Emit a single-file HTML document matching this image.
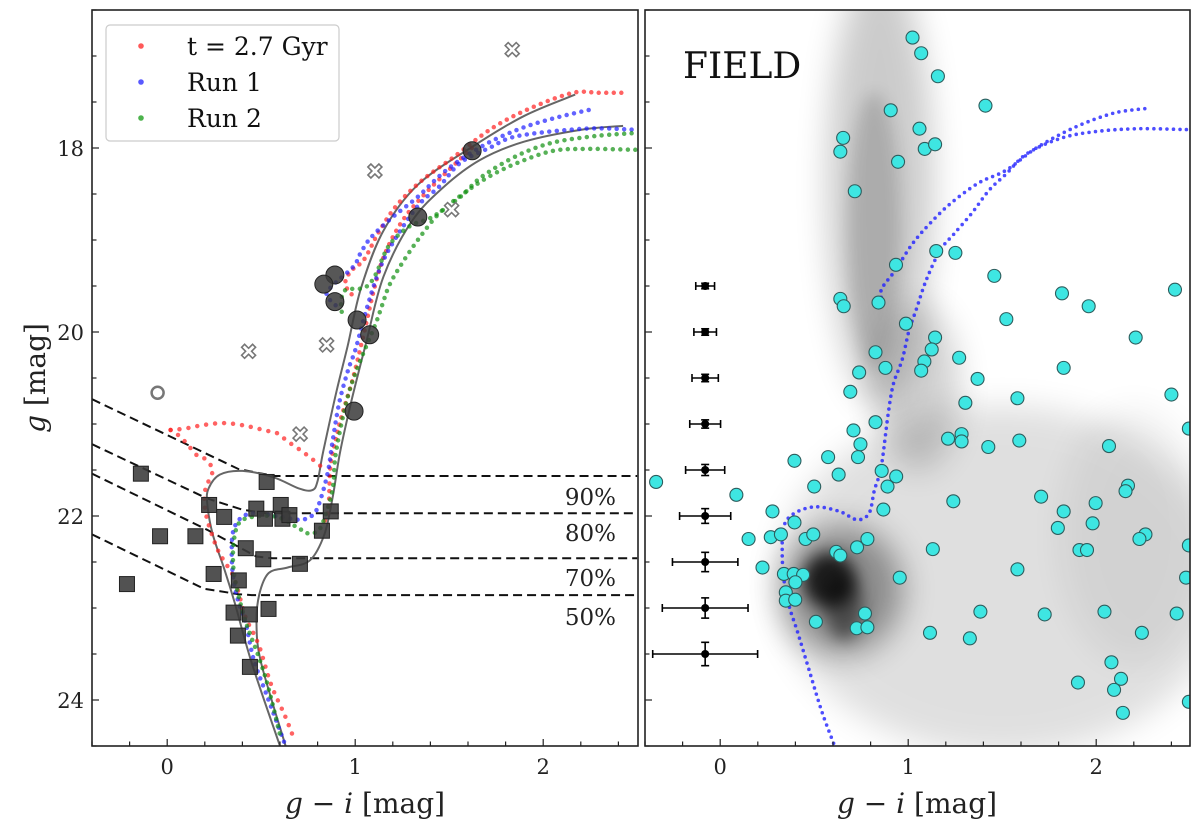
<!DOCTYPE html>
<html><head><meta charset="utf-8"><style>
html,body{margin:0;padding:0;background:#fff;}
svg{display:block;font-family:"DejaVu Serif","Liberation Serif",serif;}
</style></head><body>
<svg id="fig" width="1200" height="833" viewBox="0 0 1200 833" xmlns="http://www.w3.org/2000/svg">
<defs>
<clipPath id="clipL"><rect x="92" y="10" width="546" height="736"/></clipPath>
<clipPath id="clipR"><rect x="645" y="10" width="545" height="736"/></clipPath>
<filter id="blurBig" x="-50%" y="-50%" width="200%" height="200%"><feGaussianBlur stdDeviation="16"/></filter>
<filter id="blurMid" x="-50%" y="-50%" width="200%" height="200%"><feGaussianBlur stdDeviation="8"/></filter>
</defs>
<g id="density" clip-path="url(#clipR)"></g>
<g id="plotL" clip-path="url(#clipL)"></g>
<g id="plotR" clip-path="url(#clipR)"></g>
<g id="axes"></g>
</svg>
<script>
// ---------- data (color g-i, magnitude g) ----------
const redTop = [[0.981,19.59],[0.957,19.53],[0.949,19.44],[0.981,19.33],[1.048,19.21],[1.124,18.92],[1.218,18.63],[1.351,18.36],[1.523,18.10],[1.732,17.78],[1.941,17.56],[2.159,17.40],[2.30,17.40],[2.455,17.40]];
const redInner = [[1.62,18.0],[1.389,18.46],[1.255,18.78],[1.16,19.14],[1.105,19.50],[1.048,20.0],[0.99,20.49],[0.93,20.9],[0.90,21.14],[0.868,21.46],[0.857,21.93],[0.82,22.12]];
const redSgb = [[0.018,21.065],[0.093,21.05],[0.195,21.01],[0.306,20.99],[0.418,21.02],[0.52,21.07],[0.585,21.10],[0.641,21.19],[0.706,21.28],[0.771,21.38],[0.817,21.46]];
const redMs = [[0.018,21.065],[0.046,21.10],[0.08,21.16],[0.111,21.23],[0.158,21.34],[0.195,21.37],[0.241,21.48],[0.232,21.57],[0.204,21.70],[0.198,21.86],[0.213,22.04],[0.241,22.22],[0.269,22.37],[0.306,22.50],[0.353,22.66],[0.39,22.91],[0.418,23.11],[0.46,23.28],[0.495,23.45],[0.554,23.84],[0.626,24.17],[0.68,24.45]];
const blueOuter = [[0.896,19.71],[0.848,19.60],[0.877,19.50],[0.99,19.29],[1.029,19.14],[1.085,18.97],[1.20,18.75],[1.333,18.53],[1.485,18.24],[1.675,17.98],[1.865,17.80],[2.05,17.68],[2.28,17.57]];
const blueInner = [[2.47,17.80],[2.22,17.79],[1.865,17.87],[1.713,18.0],[1.56,18.16],[1.447,18.42],[1.35,18.59],[1.256,18.85],[1.162,19.17],[1.105,19.46],[1.048,19.84],[1.0,20.2],[0.963,20.41],[0.915,20.77],[0.878,21.21],[0.857,21.50],[0.820,21.79],[0.783,21.97],[0.715,22.04],[0.604,22.01],[0.474,21.97],[0.399,22.01],[0.353,22.15],[0.343,22.40],[0.353,22.70],[0.381,22.95],[0.418,23.17],[0.46,23.56],[0.53,23.95],[0.59,24.28],[0.626,24.48]];
const greenOuter = [[2.49,18.02],[2.245,18.01],[2.053,18.03],[1.865,18.16],[1.713,18.31],[1.58,18.49],[1.447,18.71],[1.333,19.0],[1.238,19.29],[1.18,19.5],[1.143,19.71],[1.105,19.93],[1.008,20.41],[0.952,20.77],[0.897,21.32],[0.882,21.68],[0.845,21.97],[0.808,22.15],[0.752,22.19],[0.697,22.13],[0.585,22.01],[0.455,22.01],[0.381,22.08],[0.353,22.30],[0.353,22.59],[0.381,22.88],[0.409,23.09],[0.436,23.26],[0.49,23.55],[0.54,23.88],[0.60,24.38]];
const greenInner = [[2.47,17.84],[2.28,17.87],[2.053,17.94],[1.865,18.08],[1.675,18.31],[1.56,18.53],[1.41,18.75],[1.29,18.85],[1.18,19.06],[1.105,19.39],[1.048,19.52],[0.944,19.55],[0.925,19.75],[0.95,19.84]];
const isoA = [[2.17,17.42],[1.90,17.65],[1.62,17.99],[1.333,18.40],[1.15,18.90],[1.03,19.53],[0.96,20.15],[0.90,20.65],[0.83,21.3],[0.80,21.62],[0.771,21.72],[0.70,21.70],[0.567,21.58],[0.40,21.51],[0.28,21.55],[0.22,21.70],[0.213,21.86],[0.241,22.19],[0.306,22.59],[0.36,22.95],[0.45,23.6],[0.60,24.5]];
const isoB = [[2.425,17.76],[2.207,17.80],[1.90,17.93],[1.664,18.13],[1.473,18.42],[1.30,18.80],[1.15,19.40],[1.06,20.1],[0.98,20.75],[0.92,21.3],[0.88,21.8],[0.836,22.2],[0.76,22.48],[0.641,22.56],[0.54,22.62],[0.49,22.85],[0.475,23.17],[0.50,23.6],[0.63,24.5]];
const squaresC = [-0.14,0.529,0.223,0.303,0.474,0.52,0.604,0.613,0.65,0.87,0.823,-0.038,0.15,0.418,0.511,0.706,0.247,0.381,-0.214,0.353,0.44,0.539,0.376,0.44];
const squaresG = [21.54,21.63,21.88,22.01,21.92,22.03,21.88,22.03,21.99,21.95,22.16,22.22,22.22,22.35,22.47,22.52,22.63,22.70,22.74,23.05,23.07,23.01,23.30,23.64];
const circlesC = [1.622,1.333,0.892,0.833,0.892,1.010,1.077,0.994];
const circlesG = [18.03,18.75,19.38,19.48,19.67,19.87,20.03,20.86];
const crossesC = [1.835,1.105,1.513,0.433,0.848,0.707];
const crossesG = [16.93,18.25,18.67,20.21,20.14,21.11];
const openC = [-0.051];
const openG = [20.66];
const compLabels = ["90%","80%","70%","50%"];
const compLines = [
 [[-0.4,20.73],[0.38,21.49],[0.57,21.565],[2.5,21.565]],
 [[-0.4,21.22],[0.213,21.81],[0.399,21.93],[0.52,21.97],[2.5,21.97]],
 [[-0.4,21.54],[0.213,22.15],[0.474,22.44],[0.56,22.46],[2.5,22.46]],
 [[-0.4,22.2],[0.195,22.79],[0.38,22.85],[0.45,22.86],[2.5,22.86]]
];
const fieldC = [1.023,1.069,1.158,0.907,1.411,1.060,0.654,0.639,1.088,1.143,0.946,0.716,1.149,1.251,0.935,1.458,0.639,0.657,0.842,1.818,1.960,2.419,1.522,0.988,2.210,1.143,1.125,0.826,1.271,1.086,0.879,1.069,1.827,0.739,1.369,
0.692,1.581,2.400,1.304,0.826,0.709,1.212,1.284,1.284,1.591,2.068,0.746,1.426,2.493,0.733,0.574,0.395,0.630,0.859,0.936,0.890,0.500,-0.341,0.086,1.707,1.997,1.240,0.868,1.827,2.169,2.156,0.278,0.395,1.981,1.796,2.262,2.230,0.151,0.269,0.323,0.454,0.495,0.783,0.728,2.493,1.131,1.911,1.951,0.617,0.639,0.225,1.581,0.339,0.391,0.441,0.400,0.955,2.478,0.349,0.349,0.399,0.770,1.384,1.726,2.044,2.428,0.509,0.726,0.783,1.116,1.328,2.243,2.081,1.903,2.132,2.095,2.142,2.493];
const fieldG = [16.80,16.97,17.22,17.59,17.54,17.79,17.89,18.04,18.01,17.96,18.15,18.47,19.12,19.14,19.27,19.39,19.64,19.72,19.68,19.58,19.72,19.54,19.86,19.91,20.06,20.06,20.19,20.22,20.28,20.32,20.39,20.42,20.39,20.44,20.51,
20.65,20.72,20.68,20.77,20.98,21.07,21.16,21.11,21.19,21.18,21.24,21.22,21.25,21.05,21.36,21.36,21.40,21.55,21.51,21.57,21.68,21.68,21.63,21.77,21.79,21.86,21.84,21.93,21.95,21.67,21.73,21.95,22.07,22.08,22.13,22.20,22.25,22.25,22.23,22.20,22.25,22.20,22.25,22.34,22.32,22.36,22.37,22.37,22.39,22.43,22.56,22.58,22.63,22.63,22.64,22.72,22.67,22.67,22.83,22.92,22.91,23.06,23.04,23.07,23.04,23.06,23.15,23.22,23.21,23.27,23.33,23.27,23.59,23.81,23.77,23.89,24.14,24.02];
const errG = [19.5,20.0,20.5,21.0,21.5,22.0,22.5,23.0,23.5];
const errX = [0.05,0.06,0.07,0.082,0.104,0.136,0.174,0.228,0.279];
const errY = [0.03,0.035,0.04,0.045,0.06,0.08,0.105,0.11,0.127];
const errC = -0.08;
const runOuterR = [[0.866,19.69],[0.857,19.54],[0.931,19.33],[1.023,19.04],[1.116,18.82],[1.227,18.60],[1.374,18.38],[1.522,18.24],[1.689,17.99],[1.892,17.77],[2.095,17.62],[2.271,17.57]];
const runInnerR = [[2.48,17.80],[2.225,17.79],[2.003,17.82],[1.818,17.89],[1.633,18.06],[1.522,18.28],[1.43,18.46],[1.338,18.71],[1.245,18.93],[1.171,19.11],[1.097,19.43],[1.042,19.76],[1.005,19.98],[0.968,20.30],[0.922,20.56],[0.894,20.88],[0.857,21.46],[0.82,21.72],[0.792,21.97],[0.728,22.04],[0.635,21.95],[0.506,21.90],[0.395,21.97],[0.339,22.11],[0.33,22.40],[0.339,22.69],[0.367,22.98],[0.413,23.27],[0.478,23.71],[0.543,24.14],[0.607,24.49]];
const yTickLabels = ["18","20","22","24"];
const xTickLabels = ["0","1","2"];

// ---------- scales ----------
const XL = c => 92 + (c + 0.4) * 188;
const XR = c => 645 + (c + 0.4) * 188;
const Y = g => 10 + (g - 16.5) * 92;
const NS = "http://www.w3.org/2000/svg";
function mk(tag, attrs, parent) {
  const e = document.createElementNS(NS, tag);
  for (const k in attrs) e.setAttribute(k, attrs[k]);
  if (parent) parent.appendChild(e);
  return e;
}
const pL = document.getElementById('plotL');
const pR = document.getElementById('plotR');
const dens = document.getElementById('density');
const axes = document.getElementById('axes');
function pathD(pts, X) { return pts.map((p, i) => (i ? 'L' : 'M') + X(p[0]).toFixed(1) + ' ' + Y(p[1]).toFixed(1)).join(' '); }
function smoothD(pts, X) {
  const P = pts.map(p => [X(p[0]), Y(p[1])]);
  let d = 'M' + P[0][0].toFixed(1) + ' ' + P[0][1].toFixed(1);
  for (let i = 0; i < P.length - 1; i++) {
    const p0 = P[Math.max(0, i - 1)], p1 = P[i], p2 = P[i + 1], p3 = P[Math.min(P.length - 1, i + 2)];
    const c1 = [p1[0] + (p2[0] - p0[0]) / 6, p1[1] + (p2[1] - p0[1]) / 6];
    const c2 = [p2[0] - (p3[0] - p1[0]) / 6, p2[1] - (p3[1] - p1[1]) / 6];
    d += ' C' + c1[0].toFixed(1) + ' ' + c1[1].toFixed(1) + ' ' + c2[0].toFixed(1) + ' ' + c2[1].toFixed(1) + ' ' + p2[0].toFixed(1) + ' ' + p2[1].toFixed(1);
  }
  return d;
}
function dotted(pts, X, color, parent, name, w, gap, op) {
  const e = mk('path', {d: smoothD(pts, X), fill: 'none', stroke: color, 'stroke-width': w, 'stroke-linecap': 'round', 'stroke-dasharray': '0 ' + gap, opacity: op}, parent);
  
  
}

// ---------- density (right panel background) ----------
const blobs = [
 [0.85,18.4,0.28,2.4,'#000',0.2,'blurBig'],
 [0.82,18.9,0.14,1.5,'#000',0.15,'blurMid'],
 [1.05,20.6,0.22,0.9,'#000',0.18,'blurBig'],
 [1.5,22.7,1.2,1.9,'#000',0.12,'blurBig'],
 [2.2,22.2,0.4,1.4,'#000',0.05,'blurBig'],
 [0.65,22.8,0.32,0.7,'#000',0.38,'blurBig'],
 [0.58,22.7,0.14,0.3,'#000',0.8,'blurMid'],
 [0.66,23.0,0.1,0.35,'#000',0.45,'blurMid']
];
blobs.forEach(b => {
  const e = mk('ellipse', {cx: XR(b[0]), cy: Y(b[1]), rx: b[2]*188, ry: b[3]*92, fill: b[4], opacity: b[5], filter: 'url(#' + b[6] + ')'}, dens);
  
  
});

// ---------- left panel ----------
compLines.forEach((ln, i) => {
  const e = mk('path', {d: pathD(ln, XL), fill: 'none', stroke: '#111', 'stroke-width': 2, 'stroke-dasharray': '9 5'}, pL);
  
  
});
[isoA, isoB].forEach((iso, i) => {
  const e = mk('path', {d: smoothD(iso, XL), fill: 'none', stroke: '#666', 'stroke-width': 2, 'stroke-linejoin': 'round'}, pL);
  
  
});
dotted(redTop, XL, '#ff2020', pL, 'red-series-rgb-outer', 4.5, 7.5, 0.7);
dotted(redInner, XL, '#ff2020', pL, 'red-series-rgb-inner', 4.5, 7.5, 0.7);
dotted(redSgb, XL, '#ff2020', pL, 'red-series-subgiant', 4.5, 9, 0.7);
dotted(redMs, XL, '#ff2020', pL, 'red-series-main-sequence', 4.5, 9, 0.7);
dotted(blueOuter, XL, '#2020ff', pL, 'run1-series-outer', 4.5, 7.5, 0.7);
dotted(blueInner, XL, '#2020ff', pL, 'run1-series-inner', 4.5, 7.5, 0.7);
dotted(greenOuter, XL, '#109010', pL, 'run2-series-outer', 4.5, 7.5, 0.7);
dotted(greenInner, XL, '#109010', pL, 'run2-series-inner', 4.5, 7.5, 0.7);

squaresC.forEach((c, i) => {
  const e = mk('rect', {x: XL(c) - 7.5, y: Y(squaresG[i]) - 7.5, width: 15, height: 15, fill: '#3a3a3a', 'fill-opacity': 0.88, stroke: '#222', 'stroke-width': 1}, pL);
  
  
});
circlesC.forEach((c, i) => {
  const e = mk('circle', {cx: XL(c), cy: Y(circlesG[i]), r: 9, fill: '#3a3a3a', 'fill-opacity': 0.85, stroke: '#222', 'stroke-width': 1}, pL);
  
  
});
const crossShape = 'M-7,-4 L-4,-7 L0,-3 L4,-7 L7,-4 L3,0 L7,4 L4,7 L0,3 L-4,7 L-7,4 L-3,0 Z';
crossesC.forEach((c, i) => {
  const e = mk('path', {d: crossShape, transform: 'translate(' + XL(c).toFixed(1) + ',' + Y(crossesG[i]).toFixed(1) + ')', fill: '#fff', stroke: '#777', 'stroke-width': 1.6}, pL);
  
  
});
openC.forEach((c, i) => {
  const e = mk('circle', {cx: XL(c), cy: Y(openG[i]), r: 6, fill: 'none', stroke: '#777', 'stroke-width': 2.5}, pL);
  
  
});
compLabels.forEach((t, i) => {
  const ys = [505, 541, 586, 625];
  const e = mk('text', {x: 616, y: ys[i], 'text-anchor': 'end', 'font-size': 23, fill: '#222'}, pL);
  e.textContent = t;
  
  
});

// ---------- right panel ----------
dotted(runOuterR, XR, '#2020ff', pR, 'run1-isochrone-outer-field', 3.6, 6.5, 0.8);
dotted(runInnerR, XR, '#2020ff', pR, 'run1-isochrone-inner-field', 3.6, 6.5, 0.8);
fieldC.forEach((c, i) => {
  const e = mk('circle', {cx: XR(c), cy: Y(fieldG[i]), r: 6.5, fill: '#3ee6e2', stroke: '#2d5d5d', 'stroke-width': 1.1}, pR);
  
  
});
errG.forEach((g, i) => {
  const gg = mk('g', {stroke: '#000', 'stroke-width': 1.6, fill: '#000'}, pR);
  
  
  const cx = XR(errC), cy = Y(g);
  const x1 = XR(errC - errX[i]), x2 = XR(errC + errX[i]);
  const y1 = Y(g - errY[i]), y2 = Y(g + errY[i]);
  mk('line', {x1: x1, y1: cy, x2: x2, y2: cy}, gg);
  mk('line', {x1: x1, y1: cy - 4, x2: x1, y2: cy + 4}, gg);
  mk('line', {x1: x2, y1: cy - 4, x2: x2, y2: cy + 4}, gg);
  mk('line', {x1: cx, y1: y1, x2: cx, y2: y2}, gg);
  mk('line', {x1: cx - 4, y1: y1, x2: cx + 4, y2: y1}, gg);
  mk('line', {x1: cx - 4, y1: y2, x2: cx + 4, y2: y2}, gg);
  mk('circle', {cx: cx, cy: cy, r: 4, stroke: 'none'}, gg);
});

// ---------- axes, frames, ticks ----------
[[92, 'left'], [645, 'right']].forEach(([x0, side]) => {
  const X = side === 'left' ? XL : XR;
  const fr = mk('rect', {x: x0, y: 10, width: side === 'left' ? 546 : 545, height: 736, fill: 'none', stroke: '#222', 'stroke-width': 1.6}, axes);
  
  
  for (let k = 0; k <= 16; k++) {
    const g = 16.5 + k * 0.5;
    const major = Math.abs(g % 2) < 1e-6;
    mk('line', {x1: x0, x2: x0 + (major ? 7 : 4.5), y1: Y(g), y2: Y(g), stroke: '#222', 'stroke-width': 1.2}, axes);
  }
  for (let k = -2; k <= 12; k++) {
    const c = k * 0.2;
    const major = k % 5 === 0;
    mk('line', {x1: X(c), x2: X(c), y1: 746, y2: 746 - (major ? 7 : 4.5), stroke: '#222', 'stroke-width': 1.2}, axes);
  }
  xTickLabels.forEach(t => {
    const e = mk('text', {x: X(+t), y: 774, 'text-anchor': 'middle', 'font-size': 21, fill: '#222'}, axes);
    e.textContent = t;
    
    
  });
  const xl = mk('text', {x: side === 'left' ? 365 : 917, y: 813, 'text-anchor': 'middle', 'font-size': 28, fill: '#222'}, axes);
  xl.innerHTML = '<tspan font-style="italic">g</tspan> − <tspan font-style="italic">i</tspan> [mag]';
  
  
});
yTickLabels.forEach(t => {
  const e = mk('text', {x: 84, y: Y(+t) + 8, 'text-anchor': 'end', 'font-size': 21, fill: '#222'}, axes);
  e.textContent = t;
  
  
});
const yl = mk('text', {x: 0, y: 0, 'text-anchor': 'middle', 'font-size': 28, fill: '#222', transform: 'translate(45,378) rotate(-90)'}, axes);
yl.innerHTML = '<tspan font-style="italic">g</tspan> [mag]';



const fld = mk('text', {x: 683, y: 78, 'font-size': 36, fill: '#111'}, axes);
fld.textContent = 'FIELD';



// ---------- legend ----------
const lg = mk('g', {}, axes);


mk('rect', {x: 106, y: 25, width: 233, height: 116, rx: 4, fill: '#fff', 'fill-opacity': 0.85, stroke: '#ccc', 'stroke-width': 1.2}, lg);
const legendLabels = ['t = 2.7 Gyr', 'Run 1', 'Run 2'];
const legendColors = ['#ff3030', '#3030ff', '#20a020'];
legendLabels.forEach((t, i) => {
  const cy = 46 + i * 36;
  const ent = mk('g', {}, lg);
  
  
  mk('circle', {cx: 141, cy: cy, r: 2.8, fill: legendColors[i], opacity: 0.8}, ent);
  const tx = mk('text', {x: 187, y: cy + 9, 'font-size': 25, fill: '#111'}, ent);
  tx.textContent = t;
});
</script>
</body></html>
